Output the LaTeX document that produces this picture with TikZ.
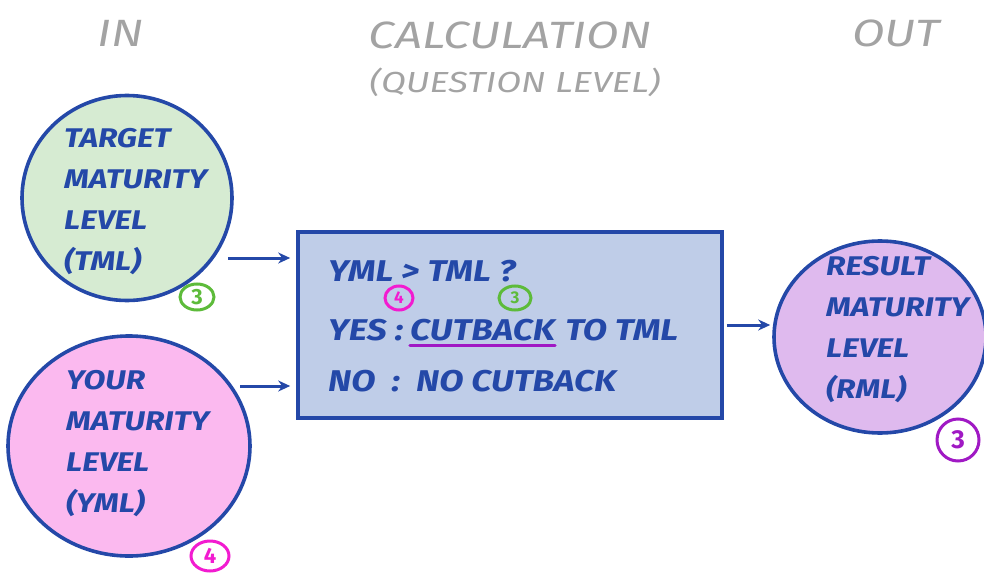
\documentclass[tikz,border=0pt]{standalone}
\usepackage{fontspec}
\setmainfont{Fira Sans}
\newfontfamily\hand[FakeStretch=1.18]{Fira Sans}
\newfontfamily\handhdr[FakeStretch=1.25]{Fira Sans}
\usetikzlibrary{shapes.geometric,arrows.meta}
\definecolor{pen}{HTML}{2448A8}
\definecolor{hdr}{HTML}{A3A3A3}
\definecolor{gfill}{HTML}{D6EBD2}
\definecolor{pfill}{HTML}{FBB9EF}
\definecolor{rfill}{HTML}{DFBAEE}
\definecolor{bfill}{HTML}{BFCDE8}
\definecolor{gbadge}{HTML}{5DBB3A}
\definecolor{mbadge}{HTML}{F21BD0}
\definecolor{vbadge}{HTML}{A019C4}
\tikzset{
  blob/.style={ellipse, draw=pen, line width=3.6pt},
  header/.style={text=hdr, font=\handhdr\itshape\fontsize{38}{40}\selectfont},
  subheader/.style={text=hdr, font=\handhdr\itshape\fontsize{29}{30}\selectfont},
  blobtext/.style={text=pen, align=left, anchor=north west, inner sep=0pt, font=\hand\bfseries\itshape\fontsize{27}{41}\selectfont},
  boxtext/.style={text=pen, anchor=base west, inner sep=0pt, font=\hand\bfseries\itshape\fontsize{30}{30}\selectfont},
  badge/.style={ellipse, draw=#1, line width=3pt, text=#1, inner sep=0pt, font=\bfseries\fontsize{22}{22}\selectfont},
  arr/.style={draw=pen, line width=3pt, -{Stealth[length=12pt,width=11pt]}},
}
\begin{document}
\begin{tikzpicture}[x=1pt,y=-1pt]
\useasboundingbox (0,0) rectangle (984,575);
% headers
\node[header] (hin) at (121,33) {IN};
\node[header] (hcalc) at (510,35) {CALCULATION};
\node[subheader] (hq) at (515,82) {(QUESTION LEVEL)};
\node[header] (hout) at (896,33) {OUT};
% left circles
\node[blob, fill=gfill, minimum width=210pt, minimum height=205pt] (tml) at (127,198) {};
\node[blobtext] (tmltext) at (64,128) {TARGET\\MATURITY\\LEVEL\\(TML)};
\node[badge=gbadge, minimum width=34pt, minimum height=26pt] (b1) at (197,297) {3};
\node[blob, fill=pfill, minimum width=242pt, minimum height=220pt] (yml) at (129,446) {};
\node[blobtext] (ymltext) at (66,370) {YOUR\\MATURITY\\LEVEL\\(YML)};
\node[badge=mbadge, minimum width=38pt, minimum height=30pt] (b2) at (210,556) {4};
% box
\node[draw=pen, line width=3.6pt, fill=bfill, minimum width=424pt, minimum height=186pt] (box) at (510,325) {};
\node[boxtext] (l1) at (328,281) {YML > TML ?};
\node[boxtext] (l2a) at (328,340) {YES :};
\node[boxtext, anchor=base west] (cut) at (410,340) {CUTBACK};
\node[boxtext, anchor=base west] (l2b) at ([xshift=10pt]cut.base east) {TO TML};
\node[boxtext] (l3) at (328,391) {NO \ : \ NO CUTBACK};
\node[badge=mbadge, minimum width=28pt, minimum height=24pt, font=\bfseries\fontsize{17}{17}\selectfont] (b4) at (399,298) {4};
\node[badge=gbadge, minimum width=32pt, minimum height=24pt, font=\bfseries\fontsize{17}{17}\selectfont] (b5) at (515,298) {3};
\draw[vbadge, line width=3.2pt, line cap=round] ([yshift=-5pt]cut.south west) -- ([yshift=-5pt]cut.south east);
% right circle
\node[blob, fill=rfill, minimum width=212pt, minimum height=192pt] (rml) at (880,337) {};
\node[blobtext] (rmltext) at (826,256) {RESULT\\MATURITY\\LEVEL\\(RML)};
\node[badge=vbadge, minimum width=42pt, minimum height=42pt, font=\bfseries\fontsize{26}{26}\selectfont] (b3) at (958,440) {3};
% arrows
\coordinate (a1) at (228,258);
\coordinate (a2) at (240,386);
\draw[arr] (a1) -- ([xshift=-6pt]box.west |- a1);
\draw[arr] (a2) -- ([xshift=-6pt]box.west |- a2);
\draw[arr, shorten >=2pt] ([xshift=3pt]box.east) -- (box.east -| rml.west);
\end{tikzpicture}
\end{document}
